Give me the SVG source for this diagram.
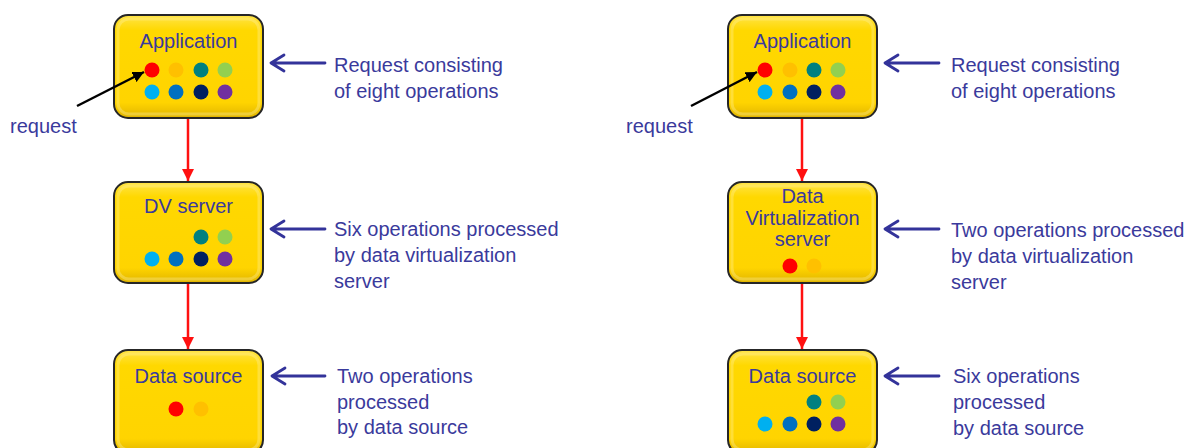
<svg xmlns="http://www.w3.org/2000/svg" width="1195" height="448" viewBox="0 0 1195 448">
<style>
.box{fill:url(#yg);stroke:#262626;stroke-width:2}
.hl{fill:none;stroke:#fff2a0;stroke-width:3;opacity:.35}
.title{font-family:"Liberation Sans",Arial,sans-serif;font-size:20px;fill:#3a3a9c;text-anchor:middle}
.lbl{font-family:"Liberation Sans",Arial,sans-serif;font-size:20px;fill:#3a3a9c}
.red{stroke:#ff1010;stroke-width:2.5;fill:none}
.blue{stroke:#33339a;stroke-width:2.8;fill:none;stroke-linecap:round;stroke-linejoin:round}
.blk{stroke:#000;stroke-width:2.5;fill:none}
.c1{fill:#ff0000}.c2{fill:#ffc000}.c3{fill:#008080}.c4{fill:#92d050}
.c5{fill:#00b0f0}.c6{fill:#0070c0}.c7{fill:#002060}.c8{fill:#7030a0}
</style>
<defs>
<linearGradient id="yg" x1="0" y1="0" x2="0" y2="1">
<stop offset="0" stop-color="#ffe44a"/>
<stop offset="0.15" stop-color="#ffd800"/>
<stop offset="0.85" stop-color="#ffd400"/>
<stop offset="1" stop-color="#e0b400"/>
</linearGradient>
<marker id="rh" viewBox="0 0 10 10" refX="10" refY="5" markerWidth="5" markerHeight="5" orient="auto" markerUnits="strokeWidth">
<path d="M0,0 L10,5 L0,10 z" fill="#ff1010"/>
</marker>
<marker id="kh" viewBox="0 0 10 10" refX="10" refY="5" markerWidth="4.5" markerHeight="4.5" orient="auto" markerUnits="strokeWidth">
<path d="M0,0 L10,5 L0,10 z" fill="#000"/>
</marker>
</defs>

<g id="app-left">
<rect class="box" x="114" y="15" width="149" height="103" rx="14"/>
<rect class="hl" x="118" y="19" width="141" height="95" rx="11"/>
<text class="title" x="188.5" y="48">Application</text>
<circle class="c1" cx="152" cy="70" r="7.5"/><circle class="c2" cx="176" cy="70" r="7.5"/><circle class="c3" cx="201" cy="70" r="7.5"/><circle class="c4" cx="225" cy="70" r="7.5"/>
<circle class="c5" cx="152" cy="92" r="7.5"/><circle class="c6" cx="176" cy="92" r="7.5"/><circle class="c7" cx="201" cy="92" r="7.5"/><circle class="c8" cx="225" cy="92" r="7.5"/>
</g>
<g id="dv-left">
<rect class="box" x="114" y="182" width="149" height="101" rx="14"/>
<rect class="hl" x="118" y="186" width="141" height="93" rx="11"/>
<text class="title" x="188.5" y="213">DV server</text>
<circle class="c3" cx="201" cy="237" r="7.5"/><circle class="c4" cx="225" cy="237" r="7.5"/>
<circle class="c5" cx="152" cy="259" r="7.5"/><circle class="c6" cx="176" cy="259" r="7.5"/><circle class="c7" cx="201" cy="259" r="7.5"/><circle class="c8" cx="225" cy="259" r="7.5"/>
</g>
<g id="ds-left">
<rect class="box" x="114" y="350" width="149" height="104" rx="14"/>
<rect class="hl" x="118" y="354" width="141" height="96" rx="11"/>
<text class="title" x="188.5" y="383">Data source</text>
<circle class="c1" cx="176" cy="409" r="7.5"/><circle class="c2" cx="201" cy="409" r="7.5"/>
</g>

<g id="app-right">
<rect class="box" x="728" y="15" width="149" height="103" rx="14"/>
<rect class="hl" x="732" y="19" width="141" height="95" rx="11"/>
<text class="title" x="802.5" y="48">Application</text>
<circle class="c1" cx="765" cy="70" r="7.5"/><circle class="c2" cx="790" cy="70" r="7.5"/><circle class="c3" cx="814" cy="70" r="7.5"/><circle class="c4" cx="838" cy="70" r="7.5"/>
<circle class="c5" cx="765" cy="92" r="7.5"/><circle class="c6" cx="790" cy="92" r="7.5"/><circle class="c7" cx="814" cy="92" r="7.5"/><circle class="c8" cx="838" cy="92" r="7.5"/>
</g>
<g id="dv-right">
<rect class="box" x="728" y="182" width="149" height="101" rx="14"/>
<rect class="hl" x="732" y="186" width="141" height="93" rx="11"/>
<text class="title" x="802.5" y="203">Data</text>
<text class="title" x="802.5" y="225">Virtualization</text>
<text class="title" x="802.5" y="246">server</text>
<circle class="c1" cx="790" cy="266" r="7.5"/><circle class="c2" cx="814" cy="266" r="7.5"/>
</g>
<g id="ds-right">
<rect class="box" x="728" y="350" width="149" height="104" rx="14"/>
<rect class="hl" x="732" y="354" width="141" height="96" rx="11"/>
<text class="title" x="802.5" y="383">Data source</text>
<circle class="c3" cx="814" cy="402" r="7.5"/><circle class="c4" cx="838" cy="402" r="7.5"/>
<circle class="c5" cx="765" cy="424" r="7.5"/><circle class="c6" cx="790" cy="424" r="7.5"/><circle class="c7" cx="814" cy="424" r="7.5"/><circle class="c8" cx="838" cy="424" r="7.5"/>
</g>

<g id="connectors">
<line class="red" x1="188" y1="119" x2="188" y2="181" marker-end="url(#rh)"/>
<line class="red" x1="188" y1="284" x2="188" y2="349" marker-end="url(#rh)"/>
<line class="red" x1="802" y1="119" x2="802" y2="181" marker-end="url(#rh)"/>
<line class="red" x1="802" y1="284" x2="802" y2="349" marker-end="url(#rh)"/>
<line class="blk" x1="77" y1="106" x2="144" y2="72" marker-end="url(#kh)"/>
<line class="blk" x1="691" y1="106" x2="757" y2="72" marker-end="url(#kh)"/>
<path class="blue" d="M325,63 H271 M284,55 L271,63 L284,71"/>
<path class="blue" d="M325,229 H271 M284,221 L271,229 L284,237"/>
<path class="blue" d="M325,376 H272 M285,368 L272,376 L285,384"/>
<path class="blue" d="M939,63 H885 M898,55 L885,63 L898,71"/>
<path class="blue" d="M939,229 H885 M898,221 L885,229 L898,237"/>
<path class="blue" d="M939,376 H885 M898,368 L885,376 L898,384"/>
</g>

<g id="labels">
<text class="lbl" x="10" y="133">request</text>
<text class="lbl" x="626" y="133">request</text>
<text class="lbl" x="334" y="72">Request consisting</text>
<text class="lbl" x="334" y="98">of eight operations</text>
<text class="lbl" x="334" y="236">Six operations processed</text>
<text class="lbl" x="334" y="262">by data virtualization</text>
<text class="lbl" x="334" y="288">server</text>
<text class="lbl" x="337" y="383">Two operations</text>
<text class="lbl" x="337" y="409">processed</text>
<text class="lbl" x="337" y="434">by data source</text>
<text class="lbl" x="951" y="72">Request consisting</text>
<text class="lbl" x="951" y="98">of eight operations</text>
<text class="lbl" x="951" y="237">Two operations processed</text>
<text class="lbl" x="951" y="263">by data virtualization</text>
<text class="lbl" x="951" y="289">server</text>
<text class="lbl" x="953" y="383">Six operations</text>
<text class="lbl" x="953" y="409">processed</text>
<text class="lbl" x="953" y="435">by data source</text>
</g>
</svg>
